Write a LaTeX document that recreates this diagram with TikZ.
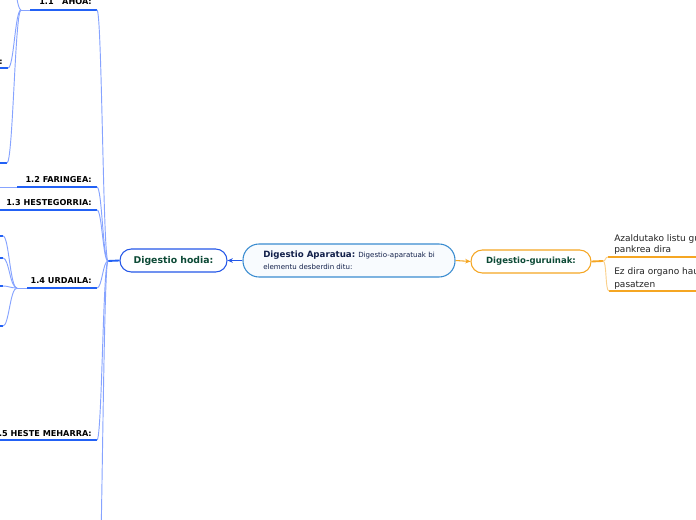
\documentclass[tikz,border=0pt]{standalone}
\usepackage{fontspec}
\setmainfont{DejaVu Sans}
\usepackage{xcolor}
\usetikzlibrary{arrows.meta}
\definecolor{ulineblue}{HTML}{2261F5}
\definecolor{branchblue}{HTML}{86A3FF}
\definecolor{hodiablue}{HTML}{2457E8}
\definecolor{mainblue}{HTML}{3A8CD0}
\definecolor{mainfill}{HTML}{F8FBFE}
\definecolor{guruorange}{HTML}{F5A623}
\definecolor{lightorange}{HTML}{FAD08A}
\definecolor{darkgreen}{HTML}{0D4A36}
\definecolor{navytext}{HTML}{12204A}
\definecolor{notegray}{HTML}{222222}

\begin{document}
\begin{tikzpicture}[x=0.75pt,y=-0.75pt,
  mainbox/.style={draw=mainblue,fill=mainfill,line width=0.8pt,rounded corners=12pt,
    minimum width=159pt,minimum height=24.75pt,inner sep=0pt,align=left,
    text=navytext,font=\fontsize{5.3}{9}\selectfont},
  hodiabox/.style={draw=hodiablue,fill=white,line width=0.8pt,rounded corners=8.5pt,
    minimum width=80.25pt,minimum height=17.25pt,inner sep=0pt,
    text=darkgreen,font=\fontsize{7}{8}\selectfont\bfseries},
  gurubox/.style={draw=guruorange,fill=white,line width=0.8pt,rounded corners=8.5pt,
    minimum width=90pt,minimum height=17.25pt,inner sep=0pt,
    text=darkgreen,font=\fontsize{6.4}{8}\selectfont\bfseries},
  topic/.style={inner sep=0pt,anchor=base east,font=\fontsize{6.1}{7}\selectfont\bfseries},
  note/.style={inner sep=0pt,anchor=base west,text=notegray,font=\fontsize{6.75}{8}\selectfont},
  uline/.style={draw=ulineblue,line width=1.4pt},
  branch/.style={draw=branchblue,line width=0.7pt},
  oline/.style={draw=guruorange,line width=1.4pt},
  obranch/.style={draw=lightorange,line width=0.7pt}]
\useasboundingbox (0,0) rectangle (696,520);
\clip (0,0) rectangle (696,520);

% main nodes
\node[mainbox] (aparatua) at (349,260.5)
  {{\fontsize{6.5}{9}\selectfont\bfseries Digestio Aparatua:} Digestio-aparatuak bi\\elementu desberdin ditu:};
\node[hodiabox] (hodia) at (173.5,260.5) {Digestio hodia:};
\node[gurubox] (guruinak) at (531,261.5) {Digestio-guruinak:};
\draw[hodiablue,line width=0.8pt,-{Stealth[length=4pt,width=3.5pt]}] (aparatua.west) -- (hodia.east);
\draw[guruorange,line width=0.8pt,-{Stealth[length=4pt,width=3.5pt]}] (aparatua.east) -- (guruinak.west);

% digestio hodia
\coordinate (hj) at (108,261);
\draw[uline] (hodia.west) -- (hj);

\coordinate (ahoaJ) at (21,10);
\coordinate (ahoaW) at (30,10);
\coordinate (ahoaE) at (97,10);
\node[topic] (ahoa) at (92,5) {1.1\ \ \ AHOA:};
\draw[branch] (ahoaJ) -- (ahoaW);
\draw[uline] (ahoaW) -- (ahoaE);
\draw[branch] (hj) .. controls +(-5,0) and +(5,0) .. (ahoaE);

\coordinate (faringeaW) at (17,187);
\coordinate (faringeaE) at (97,187);
\coordinate (faringeaL) at (0,187);
\node[topic] (faringea) at (92,183) {1.2 FARINGEA:};
\draw[branch] (faringeaL) -- (faringeaW);
\draw[uline] (faringeaW) -- (faringeaE);
\draw[branch] (hj) .. controls +(-5,0) and +(5,0) .. (faringeaE);

\coordinate (hestegW) at (0,210);
\coordinate (hestegE) at (97,210);
\node[topic] (hestegorria) at (92,206) {1.3 HESTEGORRIA:};
\draw[uline] (hestegW) -- (hestegE);
\draw[branch] (hj) .. controls +(-5,0) and +(5,0) .. (hestegE);

\coordinate (urdailaJ) at (17,288);
\coordinate (urdailaW) at (27,288);
\coordinate (urdailaE) at (97,288);
\node[topic] (urdaila) at (92,284) {1.4 URDAILA:};
\draw[branch] (urdailaJ) -- (urdailaW);
\draw[uline] (urdailaW) -- (urdailaE);
\draw[branch] (hj) .. controls +(-5,0) and +(5,0) .. (urdailaE);

\coordinate (meharW) at (0,440);
\coordinate (meharE) at (97,440);
\node[topic] (meharra) at (92,436) {1.5 HESTE MEHARRA:};
\draw[uline] (meharW) -- (meharE);
\draw[branch] (hj) .. controls +(-5,0) and +(5,0) .. (meharE);

\coordinate (beheraE) at (97,640);
\draw[branch] (hj) .. controls +(-5,0) and +(5,0) .. (beheraE);

% ahoa
\coordinate (ahoaUp) at (12,-30);
\draw[branch] (ahoaJ) .. controls +(-4,0) and +(3,10) .. (ahoaUp);
\coordinate (ahoaAE) at (8,68);
\coordinate (ahoaAW) at (-5,68);
\node[topic] (ahoaA) at (3,65) {:};
\draw[uline] (ahoaAW) -- (ahoaAE);
\draw[branch] (ahoaJ) .. controls +(-6,0) and +(6,0) .. (ahoaAE);
\coordinate (ahoaBE) at (7,163);
\coordinate (ahoaBW) at (-5,163);
\draw[uline] (ahoaBW) -- (ahoaBE);
\draw[branch] (ahoaJ) .. controls +(-6,0) and +(6,0) .. (ahoaBE);

% urdaila
\coordinate (urdAE) at (3,236);
\coordinate (urdAW) at (-5,236);
\draw[uline] (urdAW) -- (urdAE);
\draw[branch] (urdailaJ) .. controls +(-7,0) and +(6,0) .. (urdAE);
\coordinate (urdBE) at (3,258);
\coordinate (urdBW) at (-5,258);
\draw[uline] (urdBW) -- (urdBE);
\draw[branch] (urdailaJ) .. controls +(-7,0) and +(6,0) .. (urdBE);
\coordinate (urdCE) at (3,286);
\coordinate (urdCW) at (-5,286);
\draw[uline] (urdCW) -- (urdCE);
\draw[branch] (urdailaJ) .. controls +(-7,0) and +(6,0) .. (urdCE);
\coordinate (urdDE) at (3,326);
\coordinate (urdDW) at (-5,326);
\draw[uline] (urdDW) -- (urdDE);
\draw[branch] (urdailaJ) .. controls +(-7,0) and +(6,0) .. (urdDE);

% digestio-guruinak
\coordinate (gj) at (603,261);
\draw[oline] (guruinak.east) -- (gj);
\coordinate (listuW) at (608,257);
\coordinate (listuE) at (700,257);
\node[note] (listua) at (614,242) {Azaldutako listu gu};
\node[note] (listub) at (614,253) {pankrea dira};
\draw[oline] (listuW) -- (listuE);
\draw[obranch] (gj) .. controls +(3,0) and +(-3,0) .. (listuW);
\coordinate (organoW) at (609,291);
\coordinate (organoE) at (700,291);
\node[note] (organoa) at (614,275) {Ez dira organo hau};
\node[note] (organob) at (614,287) {pasatzen};
\draw[oline] (organoW) -- (organoE);
\draw[obranch] (gj) .. controls +(4,0) and +(-4,0) .. (organoW);
\end{tikzpicture}
\end{document}
